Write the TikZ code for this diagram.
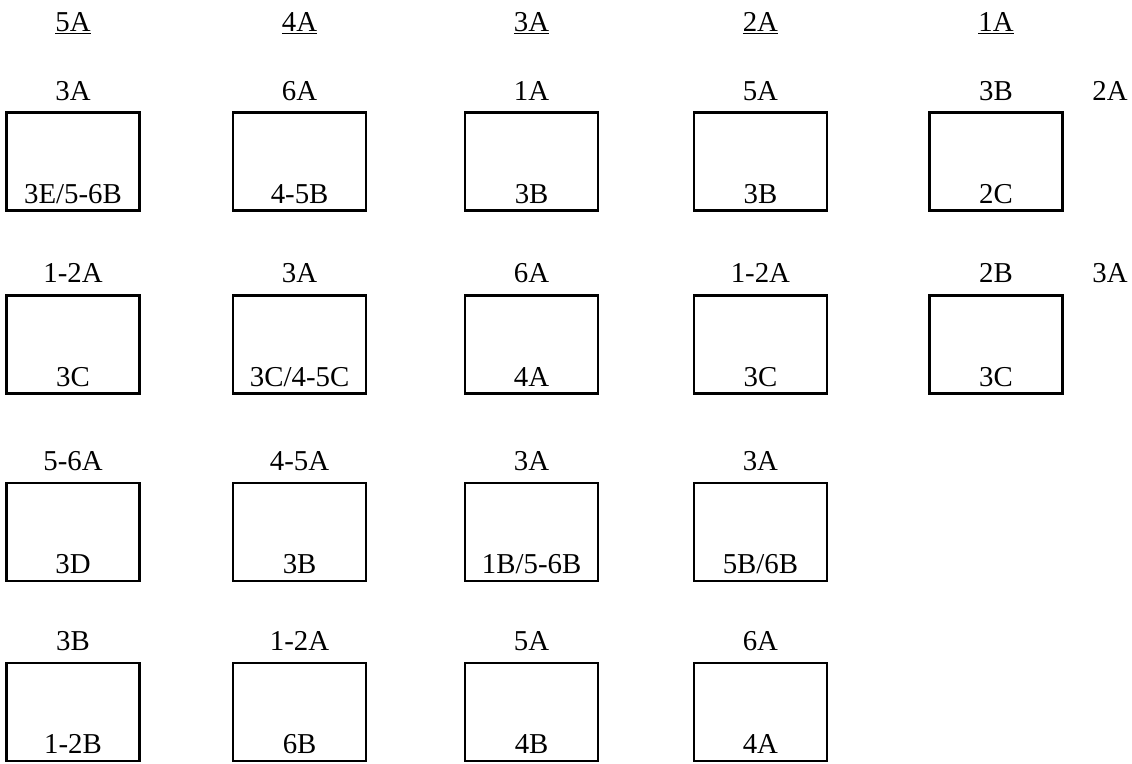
\documentclass[tikz,border=0pt]{standalone}
\usepackage{fontspec}
\setmainfont{Liberation Serif}
\usepackage{tikz}

\begin{document}
\begin{tikzpicture}[
    cell/.style={draw, line width=1.8pt, minimum width=3.33cm, minimum height=2.45cm, inner sep=0pt},
    lbl/.style={font=\fontsize{20.5}{24}\selectfont, inner sep=0pt, anchor=base},
    toplbl/.style={lbl, yshift=0.28cm},
    botlbl/.style={lbl, yshift=0.21cm}
]
    \useasboundingbox (0,0) rectangle (28.3,-19.075);

    % column heads
    \node[lbl] (h5) at (1.825,-0.775) {\underline{5A}};
    \node[lbl] (h4) at (7.49,-0.775) {\underline{4A}};
    \node[lbl] (h3) at (13.29,-0.775) {\underline{3A}};
    \node[lbl] (h2) at (19.01,-0.775) {\underline{2A}};
    \node[lbl] (h1) at (24.9,-0.775) {\underline{1A}};

    % first row
    \node[cell] (b11) at (1.825,-4.04) {};
    \node[cell] (b12) at (7.49,-4.04) {};
    \node[cell] (b13) at (13.29,-4.04) {};
    \node[cell] (b14) at (19.01,-4.04) {};
    \node[cell] (b15) at (24.9,-4.04) {};
    \node[toplbl] (t11) at (b11.north) {3A};
    \node[toplbl] (t12) at (b12.north) {6A};
    \node[toplbl] (t13) at (b13.north) {1A};
    \node[toplbl] (t14) at (b14.north) {5A};
    \node[toplbl] (t15) at (b15.north) {3B};
    \node[toplbl] (e1) at ([xshift=2.85cm]b15.north) {2A};
    \node[botlbl] (l11) at (b11.south) {3E/5-6B};
    \node[botlbl] (l12) at (b12.south) {4-5B};
    \node[botlbl] (l13) at (b13.south) {3B};
    \node[botlbl] (l14) at (b14.south) {3B};
    \node[botlbl] (l15) at (b15.south) {2C};

    % second row
    \node[cell] (b21) at (1.825,-8.61) {};
    \node[cell] (b22) at (7.49,-8.61) {};
    \node[cell] (b23) at (13.29,-8.61) {};
    \node[cell] (b24) at (19.01,-8.61) {};
    \node[cell] (b25) at (24.9,-8.61) {};
    \node[toplbl] (t21) at (b21.north) {1-2A};
    \node[toplbl] (t22) at (b22.north) {3A};
    \node[toplbl] (t23) at (b23.north) {6A};
    \node[toplbl] (t24) at (b24.north) {1-2A};
    \node[toplbl] (t25) at (b25.north) {2B};
    \node[toplbl] (e2) at ([xshift=2.85cm]b25.north) {3A};
    \node[botlbl] (l21) at (b21.south) {3C};
    \node[botlbl] (l22) at (b22.south) {3C/4-5C};
    \node[botlbl] (l23) at (b23.south) {4A};
    \node[botlbl] (l24) at (b24.south) {3C};
    \node[botlbl] (l25) at (b25.south) {3C};

    % third row
    \node[cell] (b31) at (1.825,-13.3) {};
    \node[cell] (b32) at (7.49,-13.3) {};
    \node[cell] (b33) at (13.29,-13.3) {};
    \node[cell] (b34) at (19.01,-13.3) {};
    \node[toplbl] (t31) at (b31.north) {5-6A};
    \node[toplbl] (t32) at (b32.north) {4-5A};
    \node[toplbl] (t33) at (b33.north) {3A};
    \node[toplbl] (t34) at (b34.north) {3A};
    \node[botlbl] (l31) at (b31.south) {3D};
    \node[botlbl] (l32) at (b32.south) {3B};
    \node[botlbl] (l33) at (b33.south) {1B/5-6B};
    \node[botlbl] (l34) at (b34.south) {5B/6B};

    % fourth row
    \node[cell] (b41) at (1.825,-17.8) {};
    \node[cell] (b42) at (7.49,-17.8) {};
    \node[cell] (b43) at (13.29,-17.8) {};
    \node[cell] (b44) at (19.01,-17.8) {};
    \node[toplbl] (t41) at (b41.north) {3B};
    \node[toplbl] (t42) at (b42.north) {1-2A};
    \node[toplbl] (t43) at (b43.north) {5A};
    \node[toplbl] (t44) at (b44.north) {6A};
    \node[botlbl] (l41) at (b41.south) {1-2B};
    \node[botlbl] (l42) at (b42.south) {6B};
    \node[botlbl] (l43) at (b43.south) {4B};
    \node[botlbl] (l44) at (b44.south) {4A};
\end{tikzpicture}
\end{document}
